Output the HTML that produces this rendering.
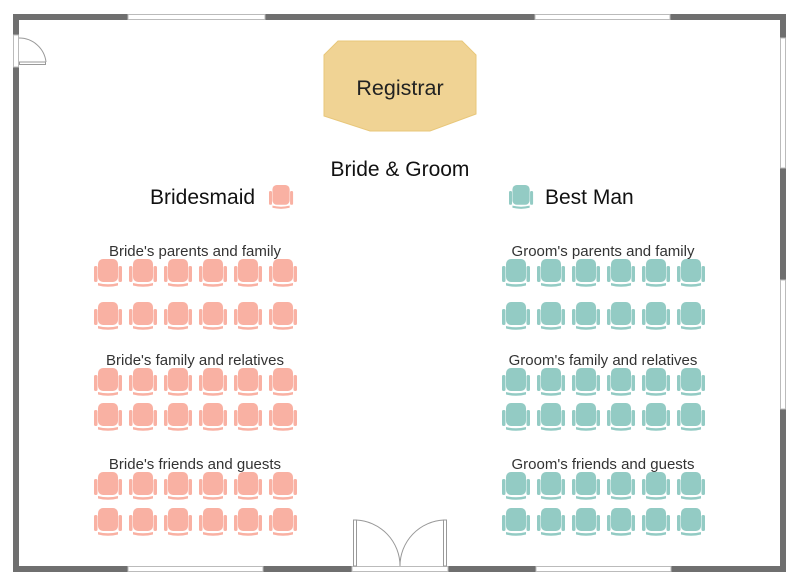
<!DOCTYPE html>
<html><head><meta charset="utf-8"><style>
html,body{margin:0;padding:0;background:#fff;}
svg{display:block;}
text{font-family:"Liberation Sans",sans-serif;}
</style></head><body>
<svg width="800" height="586" viewBox="0 0 800 586" xmlns="http://www.w3.org/2000/svg">
<defs>
<g id="ch">
  <rect x="4" y="0" width="20" height="23" rx="5"/>
  <rect x="0" y="7" width="3.5" height="16" rx="1.5"/>
  <rect x="24.5" y="7" width="3.5" height="16" rx="1.5"/>
  <path d="M4 24 Q14 26.5 24 24 L24 26.5 Q14 29 4 26.5 Z"/>
</g>
<g id="row">
<use href="#ch" x="94" y="0"/><use href="#ch" x="129" y="0"/><use href="#ch" x="164" y="0"/><use href="#ch" x="199" y="0"/><use href="#ch" x="234" y="0"/><use href="#ch" x="269" y="0"/>
</g>
</defs>
<g fill="#6f6f6f">
  <rect x="13" y="14" width="115" height="6"/>
  <rect x="265" y="14" width="270" height="6"/>
  <rect x="670" y="14" width="116" height="6"/>
  <rect x="13" y="566" width="115" height="6"/>
  <rect x="263" y="566" width="89" height="6"/>
  <rect x="448" y="566" width="88" height="6"/>
  <rect x="671" y="566" width="115" height="6"/>
  <rect x="13" y="14" width="6" height="21"/>
  <rect x="13" y="67" width="6" height="505"/>
  <rect x="780" y="14" width="6" height="24"/>
  <rect x="780" y="168" width="6" height="112"/>
  <rect x="780" y="409" width="6" height="163"/>
</g>
<g fill="none" stroke="#bbb" stroke-width="1">
  <rect x="128" y="14.5" width="137" height="5"/>
  <rect x="535" y="14.5" width="135" height="5"/>
  <rect x="128" y="566.5" width="135" height="5"/>
  <rect x="536" y="566.5" width="135" height="5"/>
  <rect x="780.5" y="38" width="5" height="130"/>
  <rect x="780.5" y="280" width="5" height="129"/>
  <rect x="13.5" y="35" width="5" height="32"/>
  <rect x="352" y="566.5" width="96" height="5"/>
</g>
<g fill="none" stroke="#999" stroke-width="1">
  <rect x="19.5" y="62" width="26" height="2.5"/>
  <path d="M19 38 A27 27 0 0 1 46 62"/>
  <rect x="353.5" y="520" width="3" height="46"/>
  <rect x="443.5" y="520" width="3" height="46"/>
  <path d="M356 520 A46 46 0 0 1 400 566"/>
  <path d="M444 520 A46 46 0 0 0 400 566"/>
</g>
<polygon points="338,41 462,41 476,55 476,114 430,131 370,131 324,116 324,55" fill="#f0d394" stroke="#e8c77a" stroke-width="1"/>
<text x="400" y="95" font-size="21.5" text-anchor="middle" fill="#222">Registrar</text>
<text x="400" y="176" font-size="21" text-anchor="middle" fill="#111">Bride &amp; Groom</text>
<text x="150" y="204" font-size="21" fill="#111">Bridesmaid</text>
<text x="545" y="204" font-size="21" fill="#111">Best Man</text>
<g fill="#f9b1a3"><use href="#ch" transform="translate(269,185) scale(0.86)"/></g>
<g fill="#93cbc4"><use href="#ch" transform="translate(509,185) scale(0.86)"/></g>
<g font-size="15" fill="#333" text-anchor="middle">
  <text x="195" y="256">Bride's parents and family</text>
  <text x="195" y="365">Bride's family and relatives</text>
  <text x="195" y="469">Bride's friends and guests</text>
  <text x="603" y="256">Groom's parents and family</text>
  <text x="603" y="365">Groom's family and relatives</text>
  <text x="603" y="469">Groom's friends and guests</text>
</g>
<g fill="#f9b1a3">
<use href="#row" y="259"/><use href="#row" y="302"/><use href="#row" y="368"/><use href="#row" y="403"/><use href="#row" y="472"/><use href="#row" y="508"/>
</g>
<g fill="#93cbc4">
<use href="#row" x="408" y="259"/><use href="#row" x="408" y="302"/><use href="#row" x="408" y="368"/><use href="#row" x="408" y="403"/><use href="#row" x="408" y="472"/><use href="#row" x="408" y="508"/>
</g>
</svg>
</body></html>
